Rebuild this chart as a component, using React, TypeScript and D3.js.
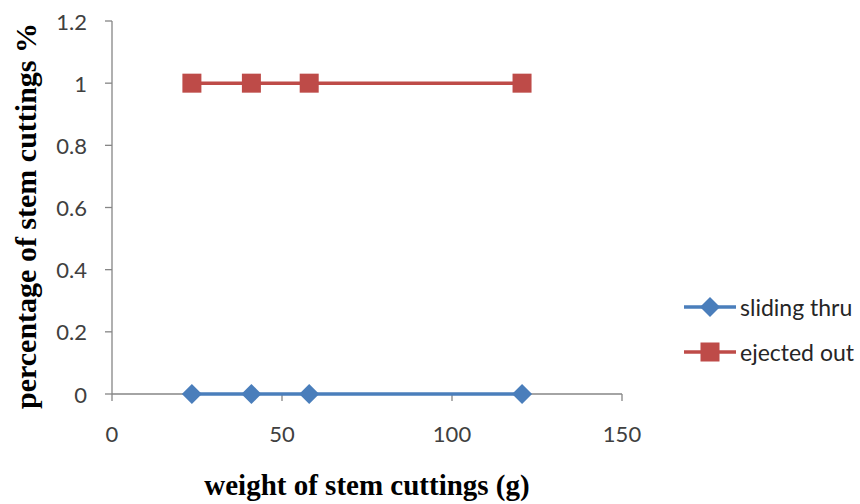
import React from "react";
import * as d3 from "d3";

const weights = [23.5, 41, 58, 120.6];
const slidingThru = [0, 0, 0, 0];
const ejectedOut = [1, 1, 1, 1];
const xTicks = [0, 50, 100, 150];
const yTicks = [0, 0.2, 0.4, 0.6, 0.8, 1, 1.2];
const seriesNames = ["sliding thru", "ejected out"];
const seriesColors = ["#4A7EBB", "#BE4B48"];

const W = 860;
const H = 504;
const x = d3.scaleLinear().domain([0, 150]).range([112, 622]);
const y = d3.scaleLinear().domain([0, 1.2]).range([394, 21]);

const tickFont = "Lato, 'Open Sans', sans-serif";
const titleFont = "'Liberation Serif', 'Times New Roman', serif";

function Marker({ kind, cx, cy, color }: { kind: string; cx: number; cy: number; color: string }) {
  if (kind === "diamond") {
    const s = 10;
    return (
      <path
        d={`M${cx},${cy - s}L${cx + s},${cy}L${cx},${cy + s}L${cx - s},${cy}Z`}
        fill={color}
      />
    );
  }
  const s = 9.5;
  return <rect x={cx - s} y={cy - s} width={2 * s} height={2 * s} fill={color} />;
}

export default function App() {
  const line = d3
    .line<[number, number]>()
    .x((d) => x(d[0]))
    .y((d) => y(d[1]));
  const series = [slidingThru, ejectedOut];
  const kinds = ["diamond", "square"];
  const legendY = [307, 352];
  return (
    <svg
      width={W}
      height={H}
      style={{ position: "absolute", left: 0, top: 0, background: "#fff" }}
    >
      {/* axes */}
      <line x1={x(0)} x2={x(0)} y1={y(1.2)} y2={y(0)} stroke="#868686" strokeWidth={1.3} />
      <line x1={x(0)} x2={x(150)} y1={y(0)} y2={y(0)} stroke="#868686" strokeWidth={1.3} />
      {yTicks.map((t) => (
        <g key={"y" + t}>
          <line x1={x(0) - 7} x2={x(0)} y1={y(t)} y2={y(t)} stroke="#868686" strokeWidth={1.3} />
          <text
            x={87}
            y={y(t)}
            textAnchor="end"
            dominantBaseline="central"
            fontFamily={tickFont}
            fontSize={22}
            fill="#404040"
          >
            {String(t)}
          </text>
        </g>
      ))}
      {xTicks.map((t) => (
        <g key={"x" + t}>
          <line x1={x(t)} x2={x(t)} y1={y(0)} y2={y(0) + 7} stroke="#868686" strokeWidth={1.3} />
          <text
            x={x(t)}
            y={433}
            textAnchor="middle"
            dominantBaseline="central"
            fontFamily={tickFont}
            fontSize={22}
            fill="#404040"
          >
            {String(t)}
          </text>
        </g>
      ))}
      {/* series */}
      {series.map((vals, i) => {
        const pts: [number, number][] = weights.map((w, j) => [w, vals[j]]);
        return (
          <g key={seriesNames[i]}>
            <path d={line(pts) || ""} fill="none" stroke={seriesColors[i]} strokeWidth={3.5} />
            {pts.map((p, j) => (
              <Marker key={j} kind={kinds[i]} cx={x(p[0])} cy={y(p[1])} color={seriesColors[i]} />
            ))}
          </g>
        );
      })}
      {/* legend */}
      {seriesNames.map((n, i) => (
        <g key={"leg" + n}>
          <line x1={684} x2={736} y1={legendY[i]} y2={legendY[i]} stroke={seriesColors[i]} strokeWidth={3.5} />
          <Marker kind={kinds[i]} cx={710} cy={legendY[i]} color={seriesColors[i]} />
          <text
            x={740}
            y={legendY[i]}
            dominantBaseline="central"
            fontFamily={tickFont}
            fontSize={23}
            fill="#262626"
          >
            {n}
          </text>
        </g>
      ))}
      {/* titles */}
      <text
        transform={`translate(36,216) rotate(-90)`}
        textAnchor="middle"
        fontFamily={titleFont}
        fontWeight="bold"
        fontSize={30}
        fill="#000"
      >
        percentage of stem cuttings %
      </text>
      <text
        x={367}
        y={495}
        textAnchor="middle"
        fontFamily={titleFont}
        fontWeight="bold"
        fontSize={29}
        fill="#000"
      >
        weight of stem cuttings (g)
      </text>
    </svg>
  );
}
